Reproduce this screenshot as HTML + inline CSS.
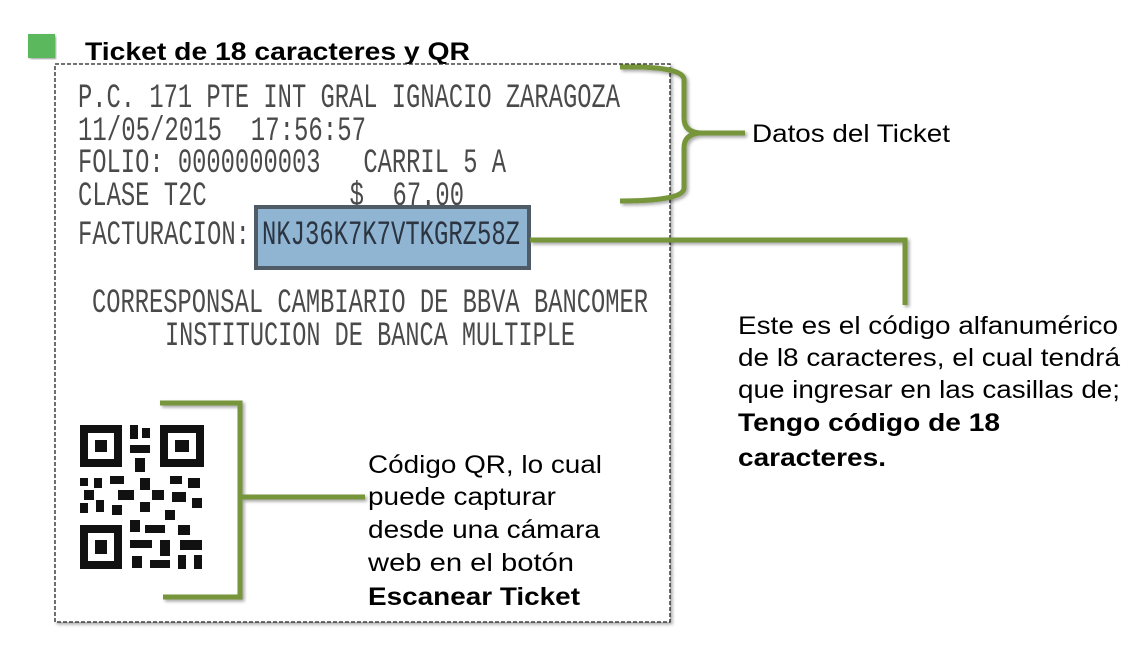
<!DOCTYPE html>
<html><head><meta charset="utf-8"><style>
body{margin:0;width:1144px;height:661px;background:#fff;overflow:hidden;font-family:"Liberation Sans",sans-serif}
text{white-space:pre}
</style></head><body>
<svg width="1144" height="661" viewBox="0 0 1144 661" xmlns="http://www.w3.org/2000/svg" xml:space="preserve">
<defs><filter id="sh" x="-5%" y="-5%" width="110%" height="110%"><feDropShadow dx="2" dy="2" stdDeviation="1.5" flood-color="#000" flood-opacity="0.35"/></filter></defs>
<rect x="28" y="34" width="27" height="24" fill="#5cb85c" filter="url(#sh)"/>
<text x="85" y="60" font-size="25" font-weight="bold" fill="#000" font-family="Liberation Sans" textLength="385" lengthAdjust="spacingAndGlyphs">Ticket de 18 caracteres y QR</text>
<rect x="55" y="64" width="615" height="558" fill="#fff" stroke="#222" stroke-width="1.3" stroke-dasharray="4,2" filter="url(#sh)"/>
<g font-family="Liberation Mono" fill="#4a4a4a" font-size="34">
<text x="78" y="107" textLength="542" lengthAdjust="spacingAndGlyphs">P.C. 171 PTE INT GRAL IGNACIO ZARAGOZA</text>
<text x="78" y="140" textLength="288" lengthAdjust="spacingAndGlyphs">11/05/2015  17:56:57</text>
<text x="78" y="172" textLength="428" lengthAdjust="spacingAndGlyphs">FOLIO: 0000000003   CARRIL 5 A</text>
<text x="78" y="205" textLength="386" lengthAdjust="spacingAndGlyphs">CLASE T2C          $  67.00</text>
</g>
<rect x="256" y="207" width="273" height="61" fill="#8fb5d3" stroke="#4f5b66" stroke-width="4"/>
<g font-family="Liberation Mono" fill="#4a4a4a" font-size="34">
<text x="78" y="244" textLength="172" lengthAdjust="spacingAndGlyphs">FACTURACION:</text>
<text x="262" y="244" textLength="258" lengthAdjust="spacingAndGlyphs" fill="#2b3440">NKJ36K7K7VTKGRZ58Z</text>
<text x="92" y="312" textLength="556" lengthAdjust="spacingAndGlyphs">CORRESPONSAL CAMBIARIO DE BBVA BANCOMER</text>
<text x="165" y="345" textLength="410" lengthAdjust="spacingAndGlyphs">INSTITUCION DE BANCA MULTIPLE</text>
</g>
<g fill="#111">
<path d="M80 425h42v42h-42zM88 433v26h26v-26z" fill-rule="evenodd"/><rect x="95" y="440" width="12" height="12"/>
<path d="M160 425h44v42h-44zM168 433v26h28v-26z" fill-rule="evenodd"/><rect x="175" y="440" width="14" height="12"/>
<path d="M80 525h42v44h-42zM88 533v28h26v-28z" fill-rule="evenodd"/><rect x="95" y="540" width="12" height="14"/>
<rect x="130" y="425" width="8" height="14"/><rect x="142" y="428" width="8" height="10"/><rect x="130" y="445" width="20" height="8"/><rect x="135" y="458" width="10" height="14"/>
<rect x="80" y="478" width="8" height="8"/><rect x="94" y="478" width="8" height="10"/><rect x="84" y="490" width="10" height="10"/><rect x="80" y="503" width="8" height="10"/><rect x="96" y="500" width="8" height="12"/>
<rect x="110" y="476" width="14" height="8"/><rect x="118" y="490" width="16" height="10"/><rect x="112" y="505" width="10" height="10"/>
<rect x="140" y="478" width="10" height="12"/><rect x="152" y="490" width="12" height="10"/><rect x="140" y="502" width="10" height="10"/>
<rect x="170" y="476" width="12" height="8"/><rect x="188" y="478" width="12" height="10"/><rect x="172" y="492" width="14" height="10"/><rect x="192" y="498" width="10" height="10"/><rect x="165" y="510" width="10" height="10"/>
<rect x="130" y="520" width="10" height="12"/><rect x="145" y="525" width="20" height="8"/><rect x="130" y="540" width="22" height="8"/><rect x="160" y="540" width="10" height="16"/><rect x="132" y="556" width="10" height="12"/><rect x="150" y="560" width="20" height="8"/>
<rect x="178" y="525" width="12" height="10"/><rect x="180" y="540" width="22" height="10"/><rect x="178" y="555" width="8" height="14"/><rect x="194" y="555" width="8" height="14"/>
</g>
<g fill="none" stroke="#77953a" stroke-width="5" filter="url(#sh)">
<path d="M620 67 Q684 66 684 80 V118 Q684 132 700 133 L745 133 M700 133 Q684 134 684 148 V188 Q684 201 620 201"/>
<path d="M530 240 H905 V305"/>
<path d="M160 403 H240 V597 H163 M240 497 H365"/>
</g>
<g font-size="25" fill="#000" font-family="Liberation Sans">
<text x="752" y="142" textLength="198" lengthAdjust="spacingAndGlyphs">Datos del Ticket</text>
<text x="738" y="334" textLength="380" lengthAdjust="spacingAndGlyphs">Este es el código alfanumérico</text>
<text x="738" y="366" textLength="382" lengthAdjust="spacingAndGlyphs">de l8 caracteres, el cual tendrá</text>
<text x="738" y="398" textLength="382" lengthAdjust="spacingAndGlyphs">que ingresar en las casillas de;</text>
<text x="738" y="431" font-weight="bold" textLength="262" lengthAdjust="spacingAndGlyphs">Tengo código de 18</text>
<text x="738" y="466" font-weight="bold" textLength="148" lengthAdjust="spacingAndGlyphs">caracteres.</text>
<text x="368" y="473" textLength="234" lengthAdjust="spacingAndGlyphs">Código QR, lo cual</text>
<text x="368" y="505" textLength="188" lengthAdjust="spacingAndGlyphs">puede capturar</text>
<text x="368" y="538" textLength="232" lengthAdjust="spacingAndGlyphs">desde una cámara</text>
<text x="368" y="571" textLength="206" lengthAdjust="spacingAndGlyphs">web en el botón</text>
<text x="368" y="605" font-weight="bold" textLength="212" lengthAdjust="spacingAndGlyphs">Escanear Ticket</text>
</g>
</svg>
</body></html>
